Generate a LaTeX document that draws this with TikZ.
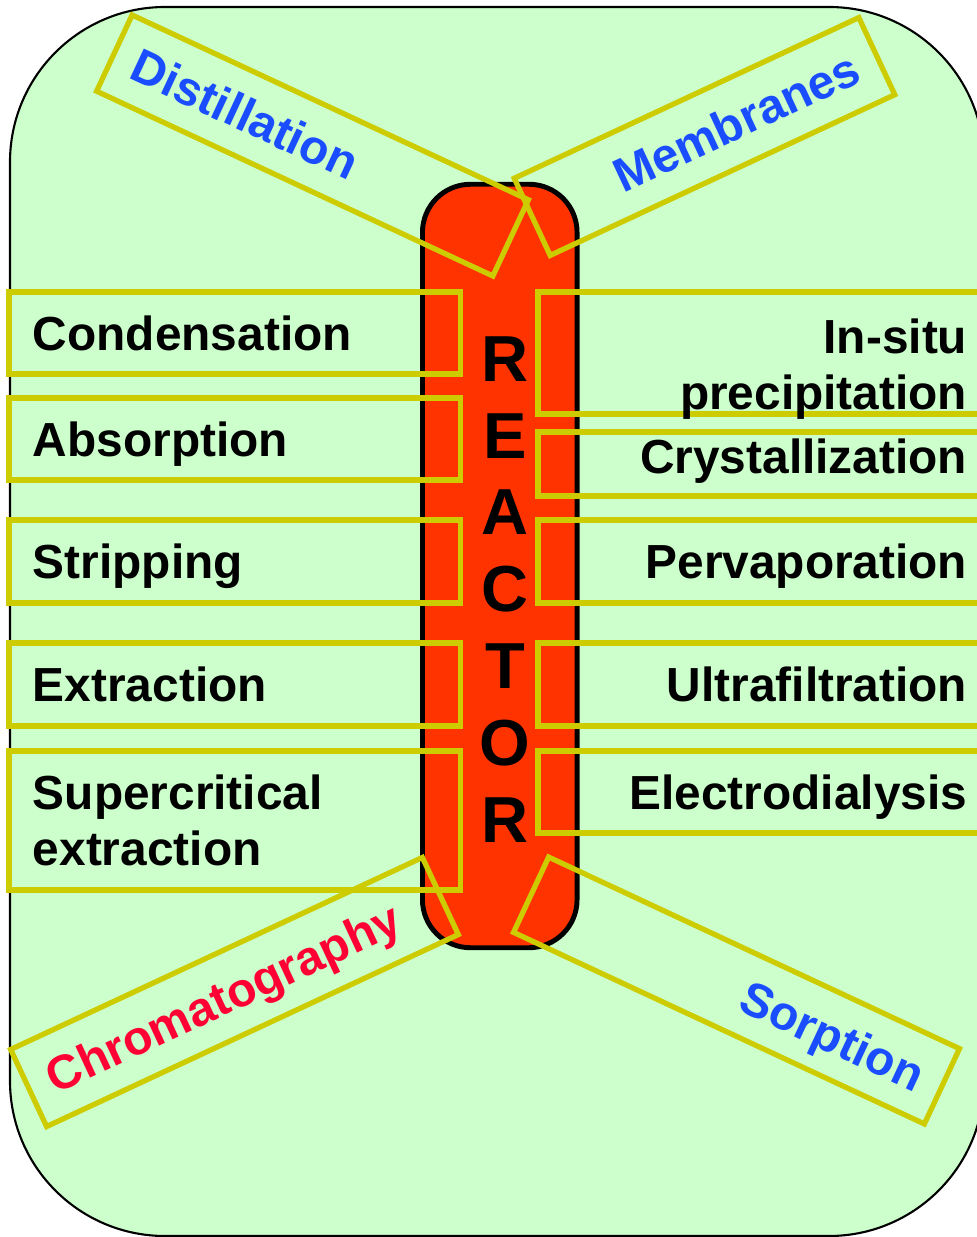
\documentclass[tikz,border=0pt]{standalone}
\usepackage{fontspec}
\setmainfont{Liberation Sans}
\definecolor{bggreen}{HTML}{CCFFCC}
\definecolor{reactorred}{HTML}{FF3300}
\definecolor{boxyellow}{HTML}{CCCC00}
\definecolor{labelblue}{HTML}{1A4DFF}
\definecolor{labelred}{HTML}{FF0033}
\tikzset{
  sidebox/.style={draw=boxyellow, line width=1.5pt, minimum width=4.51cm,
    inner ysep=0pt, font=\fontsize{13.6}{16}\selectfont\bfseries},
  leftbox/.style={sidebox, inner xsep=0.24cm, text width=4.03cm, align=left},
  rightbox/.style={sidebox, inner xsep=0.22cm, text width=4.07cm, align=right},
  oneline/.style={text height=9.7pt, text depth=0pt},
  slantbox/.style={draw=boxyellow, line width=1.5pt, inner xsep=0.22cm,
    inner ysep=0pt, oneline, font=\fontsize{13.6}{16}\selectfont\bfseries},
  reactor/.style={draw=black, line width=1.4pt, fill=reactorred,
    rounded corners=0.48cm, minimum width=1.545cm, minimum height=7.63cm},
  reactorletter/.style={font=\fontsize{18.5}{22}\selectfont\bfseries,
    text height=13.25pt, text depth=0pt, inner sep=0pt}
}
\begin{document}
\begin{tikzpicture}[x=0.01cm, y=-0.01cm]
  \useasboundingbox (0,0) rectangle (977,1237);
  \clip (0,0) rectangle (977,1237);
  % background
  \draw[fill=bggreen, line width=0.6pt, rounded corners=1.55cm] (10,7) rectangle (984,1236);
  % reactor column
  \node[reactor] (reactor) at (499.75,566) {};
  % left-hand boxes
  \node[leftbox, oneline, minimum height=0.82cm] (cond) at (234.5,333) {Condensation};
  \node[leftbox, oneline, minimum height=0.82cm] (absorp) at (234.5,439) {Absorption};
  \node[leftbox, oneline, minimum height=0.83cm] (strip) at (234.5,561.5) {Stripping};
  \node[leftbox, oneline, minimum height=0.83cm] (extr) at (234.5,684.5) {Extraction};
  \node[leftbox, minimum height=1.39cm] (superc) at (234.5,820.5) {Supercritical\\extraction};
  % right-hand boxes
  \node[rightbox, text depth=9.7pt, minimum height=1.22cm] (insitu) at (763.5,353) {In-situ\\precipitation};
  \node[rightbox, text height=9.7pt, text depth=4.5pt, minimum height=0.64cm] (cryst) at (763.5,464) {Crystallization};
  \node[rightbox, oneline, minimum height=0.83cm] (perv) at (763.5,561.5) {Pervaporation};
  \node[rightbox, oneline, minimum height=0.83cm] (ultra) at (763.5,684.5) {Ultrafiltration};
  \node[rightbox, oneline, minimum height=0.82cm] (electro) at (763.5,792) {Electrodialysis};
  % slanted boxes
  \node[slantbox, rotate=-25, minimum width=4.37cm, minimum height=0.84cm,
    text width=3.93cm, align=left, text=labelblue] (distil) at (312.5,145.5) {Distillation};
  \node[slantbox, rotate=25, minimum width=3.80cm, minimum height=0.85cm,
    text width=3.36cm, align=right, text=labelblue] (membr) at (704.5,136.5) {Membranes};
  \node[slantbox, rotate=25, minimum width=4.54cm, minimum height=0.85cm,
    text width=4.10cm, align=left, text=labelred] (chrom) at (234.5,992) {Chromatography};
  \node[slantbox, rotate=-25, minimum width=4.53cm, minimum height=0.83cm,
    text width=4.09cm, align=right, text=labelblue] (sorp) at (736.5,990.5) {Sorption};
  % letters
  \foreach \ch [count=\i] in {R,E,A,C,T,O,R} {
    \node[reactorletter] (letter\i) at (505,{358+76.8*(\i-1)}) {\ch};
  }
\end{tikzpicture}
\end{document}
